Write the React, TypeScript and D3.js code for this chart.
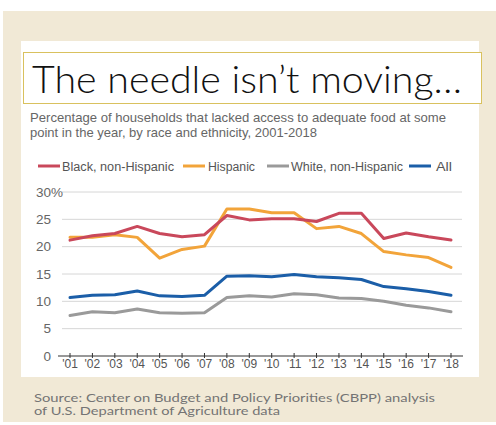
import React from "react";
import * as d3 from "d3";

const years = ["'01","'02","'03","'04","'05","'06","'07","'08","'09","'10","'11","'12","'13","'14","'15","'16","'17","'18"];
const black = [21.2, 22.0, 22.4, 23.7, 22.4, 21.8, 22.2, 25.7, 24.9, 25.1, 25.1, 24.6, 26.1, 26.1, 21.5, 22.5, 21.8, 21.2];
const hispanic = [21.7, 21.7, 22.2, 21.7, 17.9, 19.5, 20.1, 26.9, 26.9, 26.2, 26.2, 23.3, 23.7, 22.4, 19.1, 18.5, 18.0, 16.2];
const white = [7.4, 8.1, 7.9, 8.6, 7.9, 7.8, 7.9, 10.7, 11.0, 10.8, 11.4, 11.2, 10.6, 10.5, 10.0, 9.3, 8.8, 8.1];
const all = [10.7, 11.1, 11.2, 11.9, 11.0, 10.9, 11.1, 14.6, 14.7, 14.5, 14.9, 14.5, 14.3, 14.0, 12.7, 12.3, 11.8, 11.1];
const yTicks = [0, 5, 10, 15, 20, 25, 30];
const seriesNames = ["Black, non-Hispanic", "Hispanic", "White, non-Hispanic", "All"];
const seriesColors = ["#c9485b", "#f2a43a", "#9a9a9a", "#1b5ea8"];

export default function App() {
  const x = d3.scalePoint<string>().domain(years).range([70, 451]);
  const y = d3.scaleLinear().domain([0, 30]).range([356, 192]);
  const seriesData = [black, hispanic, white, all];
  const line = d3
    .line<number>()
    .x((_, i) => x(years[i]) as number)
    .y((d) => y(d))
    .curve(d3.curveLinear);
  const drawOrder = [2, 3, 1, 0];
  const legendX = [
    { lx: 38, tx: 62, w: 112 },
    { lx: 183, tx: 208, w: 47 },
    { lx: 267, tx: 291, w: 112 },
    { lx: 409, tx: 436, w: 16 },
  ];
  const cond = "'Liberation Sans Narrow', 'Arial Narrow', 'Liberation Sans', Arial, sans-serif";
  const geo = "'Lato Light', Lato, 'Open Sans', sans-serif";
  const geoReg = "Lato, 'Open Sans', sans-serif";
  return (
    <svg
      width={496}
      height={425}
      style={{ position: "absolute", left: 0, top: 0 }}
      xmlns="http://www.w3.org/2000/svg"
    >
      <rect x={0} y={0} width={496} height={425} fill="#ffffff" />
      <rect x={3} y={11} width={493} height={411} fill="#f1e9d6" />
      <rect x={21} y={41} width={458} height={336} fill="#ffffff" />
      <rect x={23.5} y={52.5} width={458} height={51} fill="#ffffff" stroke="#d9c15e" strokeWidth={1} />
      <text
        x={32}
        y={93}
        fontFamily={geo}
        fontWeight={300}
        fontSize={37}
        fill="#111"
        textLength={430}
        lengthAdjust="spacingAndGlyphs"
      >
        The needle isn’t moving…
      </text>
      <text x={30} y={122} fontFamily={cond} fontSize={13} fill="#666" textLength={416} lengthAdjust="spacingAndGlyphs">
        Percentage of households that lacked access to adequate food at some
      </text>
      <text x={30} y={137} fontFamily={cond} fontSize={13} fill="#666" textLength={287} lengthAdjust="spacingAndGlyphs">
        point in the year, by race and ethnicity, 2001-2018
      </text>
      {seriesNames.map((n, i) => (
        <g key={n}>
          <line x1={legendX[i].lx} x2={legendX[i].lx + 22} y1={166} y2={166} stroke={seriesColors[i]} strokeWidth={3} />
          <text x={legendX[i].tx} y={170.5} fontFamily={cond} fontSize={12.5} fill="#555" textLength={legendX[i].w} lengthAdjust="spacingAndGlyphs">
            {n}
          </text>
        </g>
      ))}
      {yTicks.map((t) => (
        <g key={t}>
          {t > 0 && <line x1={62} x2={462} y1={y(t)} y2={y(t)} stroke="#d6d6d6" strokeWidth={1} />}
          <text x={51} y={y(t) + 4.5} textAnchor="end" fontFamily={cond} fontSize={13.5} fill="#666">
            {t}
          </text>
          {t === 30 && (
            <text x={51} y={y(t) + 4.5} fontFamily={cond} fontSize={13.5} fill="#666">
              %
            </text>
          )}
        </g>
      ))}
      <line x1={58} x2={463} y1={y(0)} y2={y(0)} stroke="#333" strokeWidth={1.2} />
      {years.map((yr) => (
        <g key={yr}>
          <line x1={x(yr) as number} x2={x(yr) as number} y1={353} y2={358} stroke="#333" strokeWidth={1} />
          <text x={x(yr) as number} y={368} textAnchor="middle" fontFamily={cond} fontSize={12} fill="#555">
            {yr}
          </text>
        </g>
      ))}
      {drawOrder.map((i) => (
        <path
          key={seriesNames[i]}
          d={line(seriesData[i]) || ""}
          fill="none"
          stroke={seriesColors[i]}
          strokeWidth={3}
          strokeLinejoin="round"
          strokeLinecap="round"
        />
      ))}
      <text x={34} y={401.5} fontFamily={geoReg} fontWeight={400} fontSize={12} fill="#747474" textLength={401} lengthAdjust="spacingAndGlyphs">
        Source: Center on Budget and Policy Priorities (CBPP) analysis
      </text>
      <text x={34} y={415} fontFamily={geoReg} fontWeight={400} fontSize={12} fill="#747474" textLength={246} lengthAdjust="spacingAndGlyphs">
        of U.S. Department of Agriculture data
      </text>
    </svg>
  );
}
